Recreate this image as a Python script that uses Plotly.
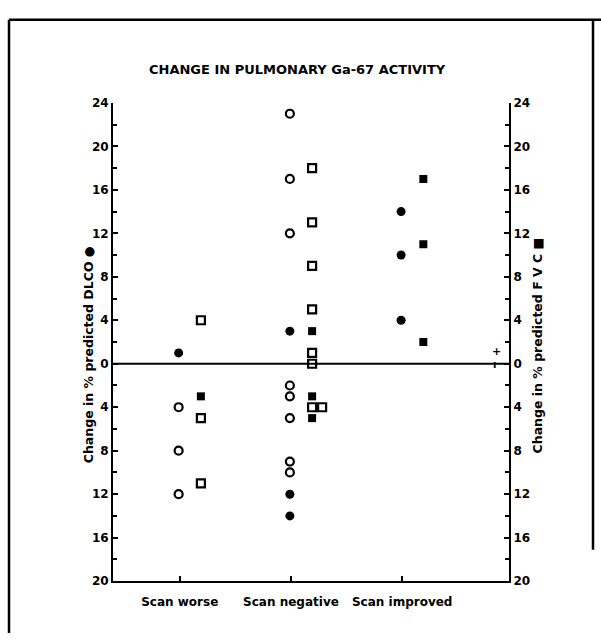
import plotly.graph_objects as go

W, H = 601, 640

categories = ["Scan worse", "Scan negative", "Scan improved"]
cat_pos = [1, 2, 3]

# DLCO (left axis, circles)
dlco_open = {
    "Scan worse": [-4, -8, -12],
    "Scan negative": [23, 17, 12, -2, -3, -5, -9, -10],
    "Scan improved": [],
}
dlco_filled = {
    "Scan worse": [1],
    "Scan negative": [3, -12, -14],
    "Scan improved": [14, 10, 4],
}
# FVC (right axis, squares)
fvc_open = {
    "Scan worse": [4, -5, -11],
    "Scan negative": [18, 13, 9, 5, 1, 0, -4, -4],
    "Scan improved": [],
}
fvc_filled = {
    "Scan worse": [-3],
    "Scan negative": [3, -3, -5],
    "Scan improved": [17, 11, 2],
}

y_tickvals = [-20, -16, -12, -8, -4, 0, 4, 8, 12, 16, 20, 24]
y_ticktext = ["20", "16", "12", "8", "4", "0", "4", "8", "12", "16", "20", "24"]

FONT = "DejaVu Sans"


def xy(data, offset):
    xs, ys = [], []
    for c, p in zip(categories, cat_pos):
        seen = {}
        for v in data[c]:
            k = seen.get(v, 0)
            seen[v] = k + 1
            xs.append(p + offset + 0.09 * k)
            ys.append(v)
    return xs, ys


fig = go.Figure()

x, y = xy(dlco_open, -0.01)
fig.add_trace(go.Scatter(x=x, y=y, mode="markers", yaxis="y",
                         marker=dict(symbol="circle-open", size=8, color="black",
                                     line=dict(width=2.2, color="black"))))
x, y = xy(dlco_filled, -0.01)
fig.add_trace(go.Scatter(x=x, y=y, mode="markers", yaxis="y",
                         marker=dict(symbol="circle", size=9, color="black")))
x, y = xy(fvc_open, 0.19)
fig.add_trace(go.Scatter(x=x, y=y, mode="markers", yaxis="y2",
                         marker=dict(symbol="square-open", size=8, color="black",
                                     line=dict(width=2.2, color="black"))))
x, y = xy(fvc_filled, 0.19)
fig.add_trace(go.Scatter(x=x, y=y, mode="markers", yaxis="y2",
                         marker=dict(symbol="square", size=8, color="black")))

x0, x1 = 113 / W, 509 / W
y0, y1 = 1 - 587 / H, 1 - 98 / H

tickfont = dict(family=FONT, size=12, color="black", weight="bold")

fig.update_layout(
    width=W, height=H,
    margin=dict(l=0, r=0, t=0, b=0),
    paper_bgcolor="white", plot_bgcolor="white",
    showlegend=False,
    xaxis=dict(domain=[x0, x1], range=[0.4, 3.96], tickvals=cat_pos,
               ticktext=categories, ticks="inside", ticklen=5, tickwidth=2,
               tickcolor="black", showline=True, linewidth=2, linecolor="black",
               showgrid=False, zeroline=False, tickfont=tickfont,
               ticklabelstandoff=8, anchor="y"),
    yaxis=dict(domain=[y0, y1], range=[-20, 24], tickvals=y_tickvals,
               ticktext=y_ticktext, ticks="inside", ticklen=5, tickwidth=2,
               tickcolor="black", showline=True, linewidth=2, linecolor="black",
               showgrid=False, zeroline=False, tickfont=tickfont,
               minor=dict(dtick=2, tick0=0, ticks="inside", ticklen=4,
                          tickwidth=2, tickcolor="black", showgrid=False)),
    yaxis2=dict(domain=[y0, y1], range=[-20, 24], tickvals=y_tickvals,
                ticktext=y_ticktext, ticks="inside", ticklen=5, tickwidth=2,
                tickcolor="black", showline=True, linewidth=2, linecolor="black",
                showgrid=False, zeroline=False, tickfont=tickfont,
                overlaying="y", side="right", anchor="x",
                minor=dict(dtick=2, tick0=0, ticks="inside", ticklen=4,
                           tickwidth=2, tickcolor="black", showgrid=False)),
)

# zero line across the plot
fig.add_shape(type="line", xref="x domain", yref="y", x0=0, x1=1, y0=0, y1=0,
              line=dict(color="black", width=2))

# frame around the figure
fig.add_shape(type="line", xref="paper", yref="paper", x0=9 / W, x1=1,
              y0=1 - 13 / H, y1=1 - 13 / H, line=dict(color="black", width=2.5))
fig.add_shape(type="line", xref="paper", yref="paper", x0=9 / W, x1=9 / W,
              y0=0, y1=1 - 13 / H, line=dict(color="black", width=2.5))
fig.add_shape(type="line", xref="paper", yref="paper", x0=593 / W, x1=593 / W,
              y0=1 - 555 / H, y1=1 - 13 / H, line=dict(color="black", width=2.5))


def ann(text, px, py, size, angle=0):
    fig.add_annotation(text=text, xref="paper", yref="paper", x=px / W,
                       y=1 - py / H, xanchor="center", yanchor="middle",
                       textangle=angle, showarrow=False,
                       font=dict(family=FONT, size=size, color="black",
                                 weight="bold"))


ann("CHANGE IN PULMONARY Ga-67 ACTIVITY", 297, 64, 13)
ann("Change in % predicted DLCO ●", 88, 356, 12.5, -90)
ann("Change in % predicted F V C ■", 537, 346, 12.5, -90)
ann("+", 496, 352, 11)
ann("ı", 494, 366, 10)

post = (
    "document.documentElement.style.overflow='hidden';"
    "document.body.style.margin='0';"
    "document.body.style.overflow='hidden';"
    "var d=document.getElementById('{plot_id}');"
    "d.style.position='fixed';d.style.top='0px';d.style.left='0px';"
)

fig.write_html("out.html", config={"displayModeBar": False}, post_script=post)
